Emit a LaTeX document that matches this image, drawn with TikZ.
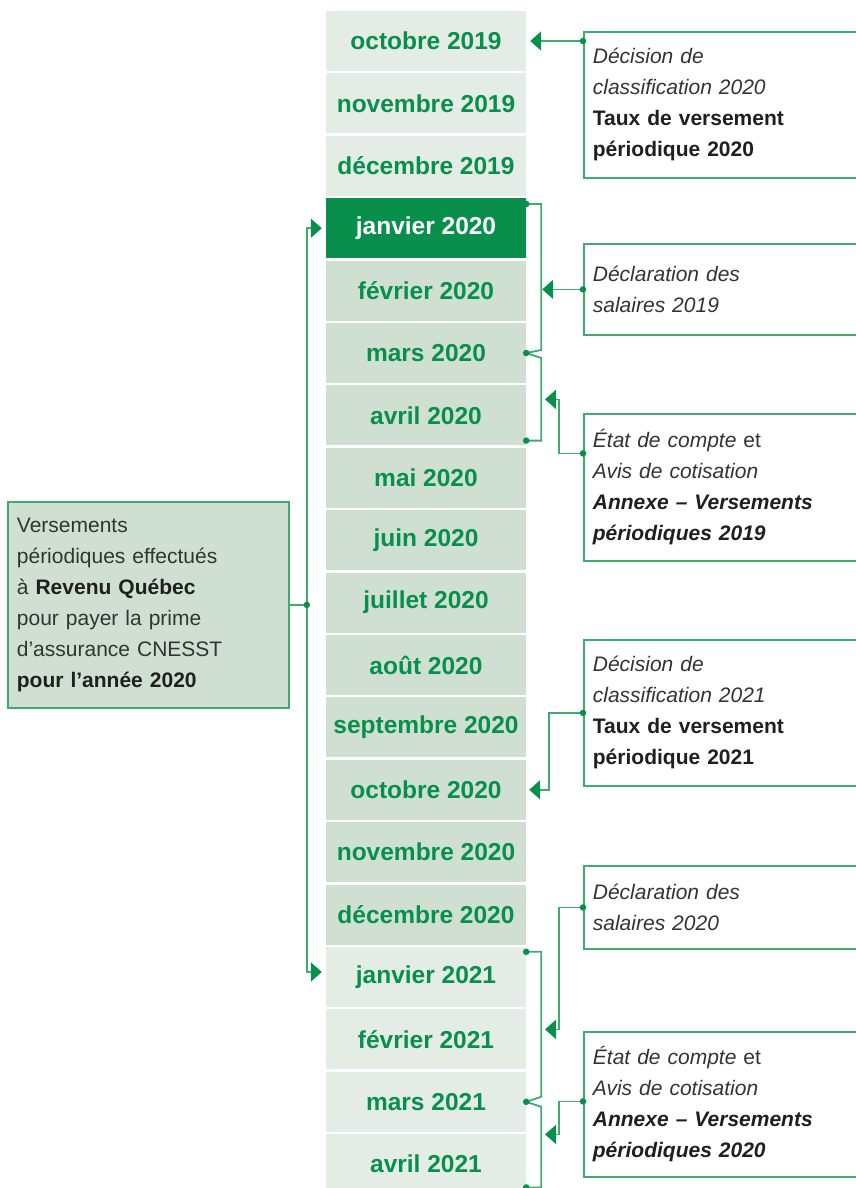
\documentclass[tikz,border=0pt]{standalone}
\usepackage{fontspec}
\setmainfont{Liberation Sans}
\usetikzlibrary{arrows.meta}
\definecolor{dkgreen}{RGB}{8,143,76}
\definecolor{lngreen}{RGB}{64,170,112}
\definecolor{palecell}{RGB}{227,237,229}
\definecolor{midcell}{RGB}{207,224,211}
\definecolor{txtgray}{RGB}{51,51,51}
\newcommand{\bld}[1]{{\color{black!88}\bfseries #1}}
\tikzset{
  cell/.style={minimum width=200pt,minimum height=60pt,inner sep=0pt,font=\fontsize{24.5}{28}\selectfont\bfseries,text=dkgreen},
  cellpale/.style={cell,fill=palecell},
  cellmid/.style={cell,fill=midcell},
  celldark/.style={cell,fill=dkgreen,text=white},
  infobox/.style={draw=lngreen,line width=1.8pt,anchor=north west,align=left,text width=262pt,inner xsep=9pt,font=\fontsize{21}{31}\selectfont,text=txtgray},
  bline/.style={draw=lngreen,line width=1.8pt},
  arr/.style={bline,-{Triangle[length=11pt,width=19pt,fill=dkgreen,color=dkgreen]}},
  dot/.style={circle,fill=dkgreen,inner sep=0pt,minimum size=6.5pt},
}
\begin{document}
\begin{tikzpicture}[x=1pt,y=-1pt]
    \useasboundingbox (0,0) rectangle (856,1188);
    \foreach \nm/\lbl/\sty [count=\i from 0] in {oct19/octobre 2019/cellpale, nov19/novembre 2019/cellpale, dec19/décembre 2019/cellpale,
        jan20/janvier 2020/celldark, feb20/février 2020/cellmid, mar20/mars 2020/cellmid, apr20/avril 2020/cellmid, may20/mai 2020/cellmid,
        jun20/juin 2020/cellmid, jul20/juillet 2020/cellmid, aug20/août 2020/cellmid, sep20/septembre 2020/cellmid, oct20/octobre 2020/cellmid,
        nov20/novembre 2020/cellmid, dec20/décembre 2020/cellmid, jan21/janvier 2021/cellpale, feb21/février 2021/cellpale,
        mar21/mars 2021/cellpale, apr21/avril 2021/cellpale}
        \node[\sty] (\nm) at (426,{41+62.4*\i}) {\lbl};

    \node[infobox,fill=midcell,text width=263pt,minimum height=206pt] (vers) at (7,501)
        {Versements\\ périodiques effectués\\ à \bld{Revenu Québec}\\ pour payer la prime\\ d’assurance CNESST\\ \bld{pour l’année 2020}};

    \node[infobox,minimum height=146pt] (decis20) at (583,31) {\textit{Décision de}\\ \textit{classification 2020}\\ \bld{Taux de versement}\\ \bld{périodique 2020}};
    \node[infobox,minimum height=91pt] (decl19) at (583,243) {\textit{Déclaration des}\\ \textit{salaires 2019}};
    \node[infobox,minimum height=147pt] (etat19) at (583,413) {\textit{État de compte} et\\ \textit{Avis de cotisation}\\ \bld{\itshape Annexe – Versements}\\ \bld{\itshape périodiques 2019}};
    \node[infobox,minimum height=146pt] (decis21) at (583,639) {\textit{Décision de}\\ \textit{classification 2021}\\ \bld{Taux de versement}\\ \bld{périodique 2021}};
    \node[infobox,minimum height=83pt] (decl20) at (583,865) {\textit{Déclaration des}\\ \textit{salaires 2020}};
    \node[infobox,minimum height=145pt] (etat20) at (583,1031) {\textit{État de compte} et\\ \textit{Avis de cotisation}\\ \bld{\itshape Annexe – Versements}\\ \bld{\itshape périodiques 2020}};

    \draw[bline] ([yshift=-6pt]jan20.north east) node[dot]{} -- ++(15,0) -- ([xshift=15pt,yshift=3pt]mar20.east) -- (mar20.east) node[dot]{}
        -- ([xshift=15pt,yshift=-5pt]mar20.east) -- ([xshift=15pt,yshift=5pt]apr20.south east) -- ([yshift=5pt]apr20.south east) node[dot]{};
    \draw[bline] ([yshift=-5pt]jan21.north east) node[dot]{} -- ++(15,0) -- ([xshift=15pt,yshift=5pt]mar21.east) -- (mar21.east) node[dot]{}
        -- ([xshift=15pt,yshift=-5pt]mar21.east) -- ([xshift=15pt,yshift=7pt]apr21.south east) -- ([yshift=7pt]apr21.south east) node[dot]{};

    \draw[arr] (oct19.east -| decis20.west) node[dot]{} -- ([xshift=4pt]oct19.east);
    \draw[arr] (decl19.west) node[dot]{} -- ([xshift=16pt]decl19.west -| feb20.east);
    \draw[arr] ([yshift=34pt]etat19.west) node[dot]{} -| ++(-24,-54) -- ++(-14,0);
    \draw[arr] (decis21.west) node[dot]{} -| ([xshift=23pt]oct20.east) -- ([xshift=3pt]oct20.east);
    \draw[arr] (decl20.west) node[dot]{} -| ++(-24,122) -- ++(-14,0);
    \draw[arr] ([yshift=3pt]etat20.west) node[dot]{} -| ++(-24,33) -- ++(-14,0);

    \coordinate (vjoin) at ([xshift=17pt]vers.east);
    \draw[arr] (vjoin) |- ([xshift=-4pt]jan20.west);
    \draw[arr] (vjoin) |- ([xshift=-4pt,yshift=5pt]jan21.west);
    \draw[bline] (vers.east) -- (vjoin) node[dot]{};
\end{tikzpicture}
\end{document}
